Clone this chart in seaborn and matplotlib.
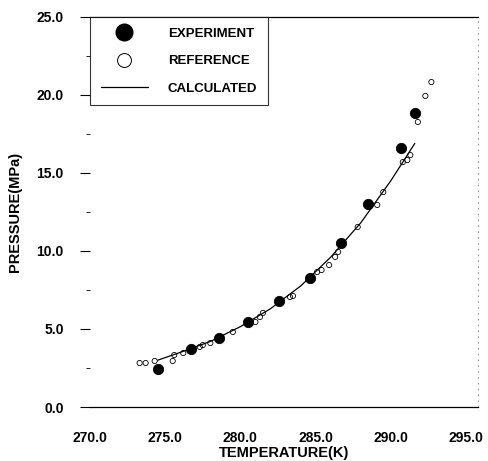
import matplotlib
matplotlib.use("Agg")
import matplotlib.pyplot as plt
from matplotlib.lines import Line2D
from matplotlib.ticker import MultipleLocator
import seaborn as sns
import pandas as pd

sns.set_style("white")
plt.rcParams["font.family"] = ["Liberation Sans", "DejaVu Sans"]
plt.rcParams["text.color"] = "black"
plt.rcParams["axes.labelcolor"] = "black"
plt.rcParams["xtick.color"] = "black"
plt.rcParams["ytick.color"] = "black"

# Experiment (filled circles)
exp_T = [274.5, 276.7, 278.6, 280.5, 282.6, 284.6, 286.7, 288.5, 290.7, 291.6]
exp_P = [2.44, 3.70, 4.40, 5.45, 6.80, 8.27, 10.5, 13.0, 16.6, 18.85]

# Reference (small open circles)
ref_T = [273.3, 273.7, 274.3, 275.5, 275.6, 276.2, 277.3, 277.5, 278.0, 279.5,
         281.0, 281.3, 281.5, 283.3, 283.5, 285.1, 285.4, 285.9, 286.3, 286.5,
         287.8, 289.1, 289.5, 290.8, 291.1, 291.3, 291.8, 292.3, 292.7]
ref_P = [2.82, 2.82, 2.95, 2.95, 3.33, 3.46, 3.85, 3.97, 4.10, 4.81,
         5.45, 5.77, 6.03, 7.05, 7.12, 8.65, 8.78, 9.10, 9.62, 9.94,
         11.54, 12.95, 13.78, 15.70, 15.83, 16.15, 18.27, 19.94, 20.83]

# Calculated curve
calc_T = [274.5, 276.0, 278.0, 280.0, 282.0, 284.0, 286.0, 288.0, 290.0, 291.6]
calc_P = [3.0, 3.5, 4.2, 5.15, 6.3, 7.75, 9.6, 11.8, 14.5, 16.9]

exp_df = pd.DataFrame({"T": exp_T, "P": exp_P})
ref_df = pd.DataFrame({"T": ref_T, "P": ref_P})
calc_df = pd.DataFrame({"T": calc_T, "P": calc_P})

fig = plt.figure(figsize=(4.88, 4.61), dpi=100)
ax = fig.add_axes([90 / 488, 1 - 407 / 461, 388 / 488, 390 / 461])

sns.lineplot(x="T", y="P", data=calc_df, color="black", linewidth=0.9, ax=ax)
sns.scatterplot(x="T", y="P", data=ref_df, marker="o", s=14,
                facecolor="none", edgecolor="black", linewidth=0.6, ax=ax)
sns.scatterplot(x="T", y="P", data=exp_df, marker="o", s=55,
                color="black", edgecolor="black", ax=ax)

ax.set_xlim(270, 295.8)
ax.set_ylim(0, 25)
ax.set_xticks([270, 275, 280, 285, 290, 295])
ax.set_yticks([0, 5, 10, 15, 20, 25])
ax.yaxis.set_minor_locator(MultipleLocator(2.5))
ax.set_xticklabels(["%.1f" % v for v in ax.get_xticks()], fontweight="bold", fontsize=10)
ax.set_yticklabels(["%.1f" % v for v in ax.get_yticks()], fontweight="bold", fontsize=10)
ax.tick_params(axis="x", length=0, pad=17)
ax.tick_params(axis="y", which="major", direction="out", length=7, width=0.8, pad=12, left=True)
ax.tick_params(axis="y", which="minor", direction="out", length=3, width=0.6, left=True)

ax.spines["left"].set_visible(False)
ax.spines["right"].set_linestyle((0, (1, 6)))
ax.spines["right"].set_color("0.5")
ax.spines["right"].set_linewidth(0.6)
for side in ["top", "bottom"]:
    ax.spines[side].set_color("black")
    ax.spines[side].set_linewidth(0.9)

ax.set_xlabel("TEMPERATURE(K)", fontweight="bold", fontsize=10.5, labelpad=1)
ax.set_ylabel("PRESSURE(MPa)", fontweight="bold", fontsize=10.5, labelpad=10)

handles = [
    Line2D([], [], marker="o", color="black", linestyle="none", markersize=12),
    Line2D([], [], marker="o", markerfacecolor="none", markeredgecolor="black",
           linestyle="none", markersize=10, markeredgewidth=0.7),
    Line2D([], [], color="black", linewidth=0.9),
]
leg = ax.legend(handles, ["EXPERIMENT", "REFERENCE", "CALCULATED"],
                loc="upper left", bbox_to_anchor=(0.0, 1.0), borderaxespad=0,
                frameon=True, fancybox=False, edgecolor="black",
                prop={"weight": "bold", "size": 9.5},
                handlelength=3.6, handletextpad=1.5, labelspacing=1.15,
                borderpad=0.8)
leg.get_frame().set_linewidth(0.8)

fig.savefig("out.png", dpi=100)
